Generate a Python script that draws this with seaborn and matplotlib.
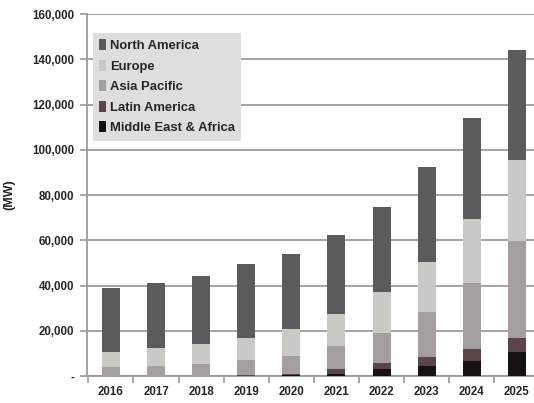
import numpy as np
import pandas as pd
import matplotlib
matplotlib.use("Agg")
import matplotlib.pyplot as plt
import seaborn as sns
from matplotlib.patches import Patch
from matplotlib.ticker import FixedLocator

years = ["2016", "2017", "2018", "2019", "2020", "2021", "2022", "2023", "2024", "2025"]
north_america = [28300, 28700, 30100, 32700, 33200, 34900, 37500, 42000, 44600, 49000]
europe = [6600, 8000, 8800, 9700, 11900, 14100, 18000, 22100, 28300, 35400]
asia_pacific = [4000, 4400, 5300, 6800, 7900, 10200, 13300, 19900, 29200, 43300]
latin_america = [0, 0, 0, 300, 400, 2000, 2600, 3900, 5300, 6000]
middle_east_africa = [0, 0, 0, 0, 600, 1100, 3100, 4500, 6600, 10600]

regions = ["North America", "Europe", "Asia Pacific", "Latin America", "Middle East & Africa"]
colors = ["#5b5b5d", "#c9cac6", "#a49e9f", "#5a4649", "#161213"]

df = pd.DataFrame({"year": years,
                   "North America": north_america,
                   "Europe": europe,
                   "Asia Pacific": asia_pacific,
                   "Latin America": latin_america,
                   "Middle East & Africa": middle_east_africa})

sns.set_style("white")
plt.rcParams["font.family"] = ["Liberation Sans Narrow", "Liberation Sans", "DejaVu Sans"]
plt.rcParams["font.weight"] = "bold"

fig = plt.figure(figsize=(5.34, 4.03), dpi=100)
ax = fig.add_axes([0.163, 0.067, 0.837, 0.898])

# stacked bars: draw cumulative totals from top segment down
order = regions[::-1]  # bottom -> top
cum = df[order].cumsum(axis=1)
for reg, col in zip(regions, colors):
    sns.barplot(x=df["year"], y=cum[reg], color=col, width=0.4,
                saturation=1, ax=ax, zorder=3, edgecolor="none")

ax.set_ylim(0, 160000)
ax.set_xlim(-0.53, 9.38)
ax.set_yticks(np.arange(0, 160001, 20000))
ax.set_yticklabels(["-"] + [f"{v:,}" for v in range(20000, 160001, 20000)])
ax.yaxis.grid(True, color="#a3a3a3", lw=1.4, zorder=0)
ax.set_axisbelow(True)

for s in ["top", "right"]:
    ax.spines[s].set_visible(False)
for s in ["left", "bottom"]:
    ax.spines[s].set_color("#9a9a9a")
    ax.spines[s].set_linewidth(1.3)

ax.tick_params(axis="y", which="major", length=5, color="#9a9a9a", width=1.2,
               labelsize=8.3, pad=4, left=True)
ax.tick_params(axis="x", which="major", length=0, labelsize=8.3, pad=7)
ax.xaxis.set_minor_locator(FixedLocator(np.arange(-0.5, 9.6, 1)))
ax.tick_params(axis="x", which="minor", length=5, color="#9a9a9a", width=1.2, bottom=True)
for lab in ax.get_xticklabels() + ax.get_yticklabels():
    lab.set_fontweight("bold")

ax.set_xlabel("")
ax.set_ylabel("(MW)", fontsize=9, fontweight="bold", labelpad=12)

handles = [Patch(facecolor=c, edgecolor="none") for c in colors]
leg = ax.legend(handles, regions, loc="upper left", bbox_to_anchor=(0.013, 0.948),
                frameon=True, fancybox=False, framealpha=1, facecolor="#dedede",
                edgecolor="none", handlelength=0.5, handleheight=0.9,
                handletextpad=0.3, labelspacing=0.58, borderpad=0.5,
                borderaxespad=0, prop={"weight": "bold", "size": 9.4})
leg.set_zorder(5)

fig.savefig("out.png", dpi=100)
